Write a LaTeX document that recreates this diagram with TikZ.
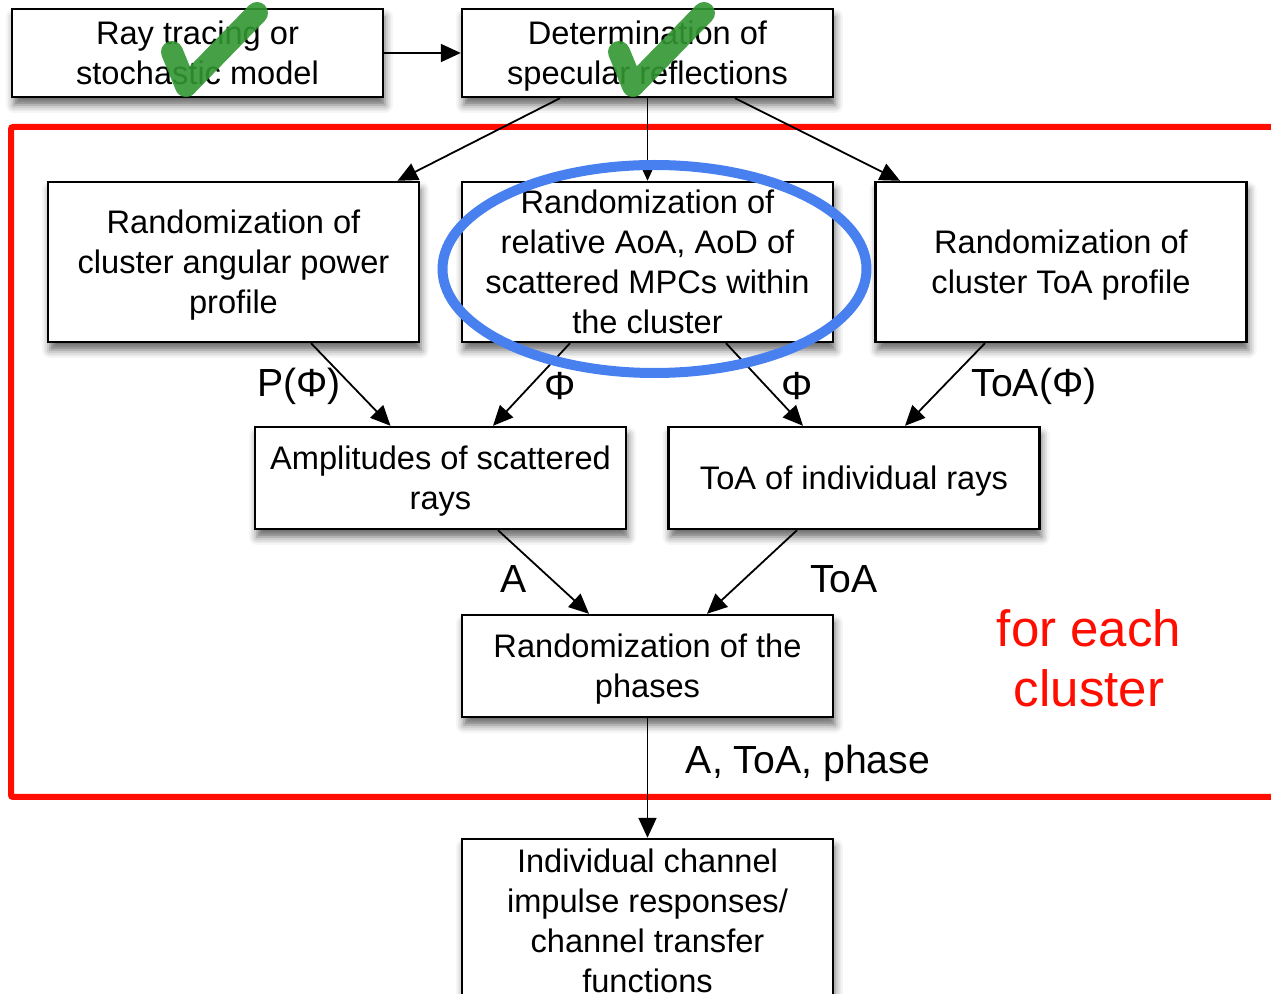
\documentclass[tikz,border=0pt]{standalone}
\usepackage{fontspec}
\setmainfont{Liberation Sans}
\usetikzlibrary{arrows.meta, positioning, shadows.blur}

\begin{document}
\begin{tikzpicture}[
	x=0.5pt, y=-0.5pt,
	box/.style = {draw, line width=1.2pt, fill=white, minimum width=185.5pt,
	              inner sep=0pt, align=center, text depth=-7pt,
	              font=\fontsize{16.3}{20}\selectfont,
	              blur shadow={shadow xshift=1pt, shadow yshift=-4pt,
	                           shadow blur radius=4pt, shadow opacity=60}},
	lbl/.style = {inner sep=0pt, font=\fontsize{19.6}{22}\selectfont},
	arr/.style = {line width=0.9pt, -{Triangle[length=10pt,width=9pt]}},
	tick/.style = {draw={rgb,255:red,50;green,150;blue,50}, opacity=0.9,
	               line width=11pt, line cap=round, line join=round}
     ]
\useasboundingbox (0,0) rectangle (1271,994);
%
		\draw[red!90!orange, line width=3pt, rounded corners=1pt]
		(1300,127) -- (11,127) -- (11,797) -- (1300,797);
%
		\node (b1) [box, minimum height=44pt] at (197.5,53) {Ray tracing or\\stochastic model};
		\node (b2) [box, minimum height=44pt] at (647.5,53) {Determination of\\specular reflections};
		\node (b3) [box, minimum height=80pt] at (233.5,262) {Randomization of\\cluster angular power\\profile};
		\node (b4) [box, minimum height=80pt] at (647.5,262) {Randomization of\\relative AoA, AoD of\\scattered MPCs within\\the cluster};
		\node (b5) [box, minimum height=80pt] at (1061,262) {Randomization of\\cluster ToA profile};
		\node (b6) [box, minimum height=51pt] at (440.5,478) {Amplitudes of scattered\\rays};
		\node (b7) [box, minimum height=51pt] at (854,478) {ToA of individual rays};
		\node (b8) [box, minimum height=51pt] at (647.5,666) {Randomization of the\\phases};
		\node (b9) [box, minimum height=82pt] at (647.5,921) {Individual channel\\impulse responses/\\channel transfer\\functions};
%
		\draw[arr] (b1.east) -- (b2.west);
		\draw[arr] ([xshift=-43.75pt] b2.south) -- ([xshift=82pt] b3.north);
		\draw[arr] (b2.south) -- (b4.north);
		\draw[arr] ([xshift=43.75pt] b2.south) -- ([xshift=-80.5pt] b5.north);
%
		\draw[arr] ([xshift=38.75pt] b3.south) -- ([xshift=-25pt] b6.north);
		\draw[arr] ([xshift=-38.75pt] b4.south) -- ([xshift=26.25pt] b6.north);
		\draw[arr] ([xshift=39.25pt] b4.south) -- ([xshift=-25.5pt] b7.north);
		\draw[arr] ([xshift=-38pt] b5.south) -- ([xshift=25.5pt] b7.north);
%
		\draw[arr] ([xshift=28.75pt] b6.south) -- ([xshift=-29.25pt] b8.north);
		\draw[arr] ([xshift=-28.5pt] b7.south) -- ([xshift=29.75pt] b8.north);
		\draw[arr] (b8.south) -- (b9.north);
%
		\node (pphi) [lbl] at (299,386) {P(Φ)};
		\node (phil) [lbl] at (560,386) {Φ};
		\node (phir) [lbl] at (797,386) {Φ};
		\node (toaphi) [lbl] at (1034,386) {ToA(Φ)};
		\node (amp) [lbl] at (514,579) {A};
		\node (toa) [lbl] at (844,579) {ToA};
		\node (out) [lbl] at (808,763) {A, ToA, phase};
		\node (each) [align=center, text=red!90!orange,
		      font=\fontsize{25.5}{30}\selectfont] at (1089,658) {for each\\cluster};
%
		\draw[draw={rgb,255:red,72;green,128;blue,240}, line width=5pt]
		(b4.center) ++(7,7) ellipse (106pt and 52pt);
%
		\draw[tick] (172,52) -- (186,86) -- (257,13);
		\draw[tick] (619,52) -- (633,86) -- (704,13);
\end{tikzpicture}
\end{document}
